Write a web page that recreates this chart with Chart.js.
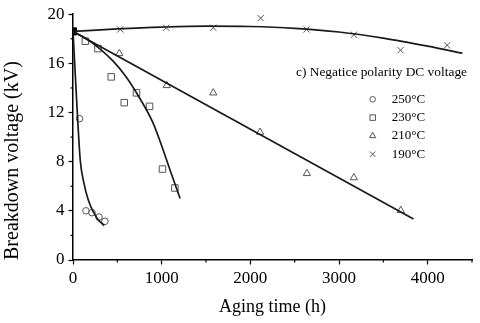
<!DOCTYPE html>
<html>
<head>
<meta charset="utf-8">
<script src="https://cdn.jsdelivr.net/npm/chart.js@4.4.1/dist/chart.umd.min.js"></script>
<style>
  html, body { margin: 0; padding: 0; background: #fff; }
  #chart { display: block; }
</style>
</head>
<body>
<canvas id="chart" width="480" height="323"></canvas>
<script>
// measured points (aging time in h, breakdown voltage in kV)
const hours250 = [74, 146, 214, 293, 360];
const volts250 = [11.5, 4.0, 3.85, 3.5, 3.15];
const hours230 = [139, 281, 431, 578, 716, 863, 1009, 1149];
const volts230 = [17.8, 17.2, 14.9, 12.8, 13.6, 12.5, 7.4, 5.86];
const hours210 = [522, 1058, 1582, 2110, 2638, 3168, 3697];
const volts210 = [16.8, 14.2, 13.6, 10.4, 7.04, 6.7, 4.03];
const hours190 = [533, 1051, 1583, 2117, 2635, 3168, 3694, 4219];
const volts190 = [18.76, 18.9, 18.9, 19.68, 18.76, 18.33, 17.07, 17.47];

// common starting value
const startHours = [0];
const startVolts = [18.6];

// fitted curves
const fitHours250 = [0, 25, 50, 82, 119, 176, 270, 352];
const fitVolts250 = [18.6, 15.2, 11.8, 8.1, 6.4, 4.8, 3.4, 2.8];
const fitHours230 = [0, 150, 300, 450, 600, 750, 900, 1000, 1100, 1208];
const fitVolts230 = [18.6, 18.0, 17.2, 16.2, 14.9, 13.2, 11.2, 9.3, 7.2, 5.0];
const fitHours210 = [0, 3840];
const fitVolts210 = [18.6, 3.33];
const fitHours190 = [0, 500, 1000, 1500, 2000, 2500, 3000, 3500, 4000, 4392];
const fitVolts190 = [18.6, 18.8, 18.95, 19.03, 19.0, 18.85, 18.55, 18.05, 17.4, 16.83];

const seriesLabels = ['250°C', '230°C', '210°C', '190°C'];
const seriesStyles = ['circle', 'rect', 'triangle', 'crossRot'];
const markerSizes = [3.3, 4.6, 4.2, 4.4];
const noteText = 'c) Negatice polarity DC voltage';

const xTickLabels = [0, 1000, 2000, 3000, 4000];
const yTickLabels = [0, 4, 8, 12, 16, 20];

const markerColor = '#555';
const lineColor = '#1a1a1a';

function toPoints(xs, ys) {
    return xs.map((x, i) => ({ x: x, y: ys[i] }));
}

function fitDataset(xs, ys) {
    return {
        data: toPoints(xs, ys),
        showLine: true,
        borderColor: lineColor,
        borderWidth: 1.7,
        pointRadius: 0,
        cubicInterpolationMode: 'monotone',
        fill: false
    };
}

function markerDataset(i, xs, ys) {
    return {
        label: seriesLabels[i],
        data: toPoints(xs, ys),
        showLine: false,
        pointStyle: seriesStyles[i],
        pointRadius: markerSizes[i],
        pointBorderColor: markerColor,
        pointBackgroundColor: 'rgba(0,0,0,0)',
        pointBorderWidth: 1
    };
}

const isMajor = (axis, value) => axis === 'x' ? xTickLabels.includes(value) : yTickLabels.includes(value);

// short minor ticks between the labelled ones
const minorTicks = {
    id: 'minorTicks',
    afterDraw(chart) {
        const ctx = chart.ctx;
        ctx.save();
        ctx.strokeStyle = '#000';
        ctx.lineWidth = 1.2;
        const xs = chart.scales.x;
        const ys = chart.scales.y;
        xs.ticks.forEach(t => {
            if (isMajor('x', t.value)) return;
            const px = xs.getPixelForValue(t.value);
            ctx.beginPath();
            ctx.moveTo(px, xs.top);
            ctx.lineTo(px, xs.top + 2.5);
            ctx.stroke();
        });
        ys.ticks.forEach(t => {
            if (isMajor('y', t.value)) return;
            const py = ys.getPixelForValue(t.value);
            ctx.beginPath();
            ctx.moveTo(ys.right, py);
            ctx.lineTo(ys.right - 2.5, py);
            ctx.stroke();
        });
        ctx.restore();
    }
};

// note text and the symbol key inside the plot
const keyBox = {
    id: 'keyBox',
    afterDraw(chart) {
        const ctx = chart.ctx;
        ctx.save();
        ctx.fillStyle = '#000';
        ctx.textBaseline = 'middle';
        ctx.textAlign = 'left';
        ctx.font = '13.4px "Liberation Serif"';
        ctx.fillText(noteText, 296, 72);
        ctx.font = '13px "Liberation Serif"';
        seriesLabels.forEach((label, i) => {
            const y = 99.3 + i * 18.3;
            ctx.strokeStyle = markerColor;
            ctx.fillStyle = 'rgba(0,0,0,0)';
            ctx.lineWidth = 1;
            Chart.helpers.drawPoint(ctx, { pointStyle: seriesStyles[i], rotation: 0, radius: markerSizes[i] * 0.85, borderWidth: 1 }, 372.7, y);
            ctx.fillStyle = '#000';
            ctx.fillText(label, 391.7, y);
        });
        ctx.restore();
    }
};

Chart.defaults.font.family = '"Liberation Serif", "Times New Roman", serif';
Chart.defaults.color = '#000';

const ctx = document.getElementById('chart').getContext('2d');
const chart = new Chart(ctx, {
    type: 'scatter',
    data: {
        datasets: [
            fitDataset(fitHours250, fitVolts250),
            fitDataset(fitHours230, fitVolts230),
            fitDataset(fitHours210, fitVolts210),
            fitDataset(fitHours190, fitVolts190),
            markerDataset(0, hours250, volts250),
            markerDataset(1, hours230, volts230),
            markerDataset(2, hours210, volts210),
            markerDataset(3, hours190, volts190),
            {
                data: toPoints(startHours, startVolts),
                pointStyle: 'rect',
                pointRadius: 5,
                pointBackgroundColor: '#000',
                pointBorderColor: '#000',
                pointBorderWidth: 1
            }
        ]
    },
    options: {
        responsive: false,
        animation: false,
        layout: { padding: { top: 12, right: 8, left: 0, bottom: 0 } },
        plugins: {
            legend: { display: false },
            tooltip: { enabled: false }
        },
        scales: {
            x: {
                type: 'linear',
                min: 0,
                max: 4500,
                afterFit: scale => { scale.height = 63; },
                border: { display: true, color: '#000', width: 1.5 },
                grid: {
                    drawOnChartArea: false,
                    drawTicks: true,
                    tickLength: 4.5,
                    tickWidth: 1.2,
                    tickColor: c => isMajor('x', c.tick.value) ? '#000' : 'rgba(0,0,0,0)'
                },
                ticks: {
                    stepSize: 500,
                    autoSkip: false,
                    maxRotation: 0,
                    padding: 4,
                    font: { size: 17 },
                    callback: v => isMajor('x', v) ? String(v) : ''
                },
                title: {
                    display: true,
                    text: 'Aging time (h)',
                    font: { size: 18 },
                    padding: { top: 0, bottom: 5 }
                }
            },
            y: {
                type: 'linear',
                min: 0,
                max: 20,
                afterFit: scale => { scale.width = 73; },
                border: { display: true, color: '#000', width: 1.5 },
                grid: {
                    drawOnChartArea: false,
                    drawTicks: true,
                    tickLength: 4.5,
                    tickWidth: 1.2,
                    tickColor: c => isMajor('y', c.tick.value) ? '#000' : 'rgba(0,0,0,0)'
                },
                ticks: {
                    stepSize: 2,
                    autoSkip: false,
                    padding: 4,
                    font: { size: 17 },
                    callback: v => isMajor('y', v) ? String(v) : ''
                },
                title: {
                    display: true,
                    align: 'start',
                    text: 'Breakdown voltage (kV)',
                    font: { size: 20 },
                    padding: { top: 1, bottom: 0 }
                }
            }
        }
    },
    plugins: [minorTicks, keyBox]
});
</script>
</body>
</html>
